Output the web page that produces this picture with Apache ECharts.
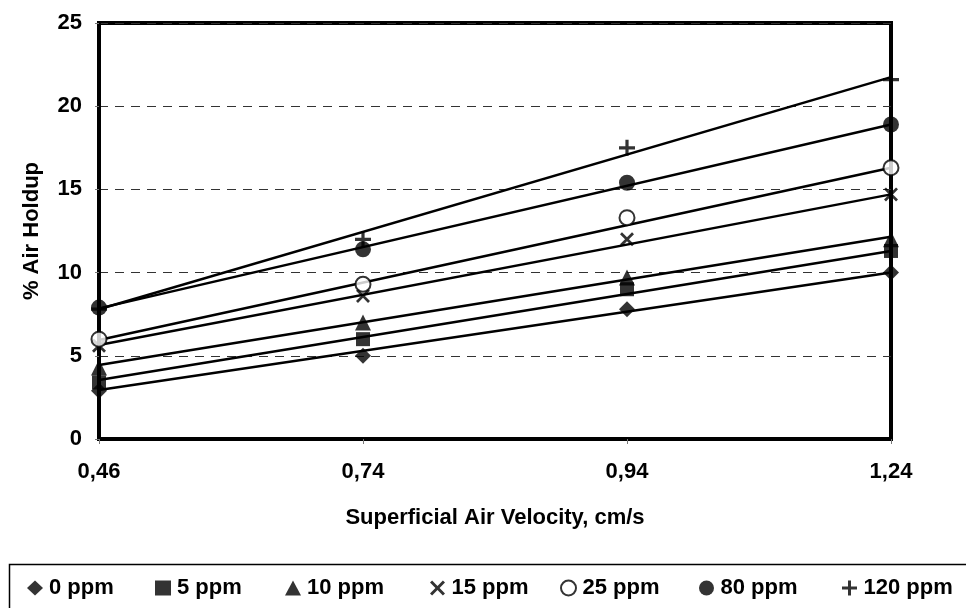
<!DOCTYPE html>
<html>
<head>
<meta charset="utf-8">
<script src="https://cdn.jsdelivr.net/npm/echarts@6/dist/echarts.min.js"></script>
<style>html,body{margin:0;padding:0;background:#fff;}#c{width:966px;height:608px;}</style>
</head>
<body>
<div id="c"></div>
<script>
const categories = ['0,46', '0,74', '0,94', '1,24'];
const seriesNames = ['0 ppm', '5 ppm', '10 ppm', '15 ppm', '25 ppm', '80 ppm', '120 ppm'];
const ppm0   = [2.9, 5.0, 7.8, 10.0];
const ppm5   = [3.4, 6.0, 9.0, 11.3];
const ppm10  = [4.3, 7.0, 9.7, 12.0];
const ppm15  = [5.6, 8.6, 12.0, 14.7];
const ppm25  = [6.0, 9.3, 13.3, 16.3];
const ppm80  = [7.9, 11.4, 15.4, 18.9];
const ppm120 = [7.8, 12.0, 17.5, 21.6];
// trend line values at first and last category
const trendStart = [2.95, 3.55, 4.45, 5.65, 5.95, 7.85, 7.8];
const trendEnd   = [10.0, 11.3, 12.15, 14.7, 16.3, 18.9, 21.75];
const yTicks = [0, 5, 10, 15, 20, 25];

const values = [ppm0, ppm5, ppm10, ppm15, ppm25, ppm80, ppm120];
const X_PATH = 'path://M0,2.8 L2.8,0 L10,7.2 L17.2,0 L20,2.8 L12.8,10 L20,17.2 L17.2,20 L10,12.8 L2.8,20 L0,17.2 L7.2,10 Z';
const PLUS_PATH = 'path://M8,0 H12 V8 H20 V12 H12 V20 H8 V12 H0 V8 H8 Z';
const symbols = ['diamond', 'rect', 'triangle', X_PATH, 'emptyCircle', 'circle', PLUS_PATH];
const sizes = [16, 14, 16, 14, 15, 16, 16];
const legendX = [35, 163, 293, 438, 568, 707, 850];

const FONT = '"Liberation Sans", Arial, sans-serif';
const chart = echarts.init(document.getElementById('c'), null, {renderer: 'canvas'});

const series = [];
seriesNames.forEach((n, i) => {
  series.push({
    name: n + ' trend', type: 'line', silent: true,
    data: [[0, trendStart[i]], [categories.length - 1, trendEnd[i]]],
    symbol: 'none', lineStyle: {color: '#000', width: 2.5}, z: 3
  });
});
seriesNames.forEach((n, i) => {
  series.push({
    name: n, type: 'scatter',
    data: values[i],
    symbol: symbols[i], symbolSize: sizes[i],
    itemStyle: i === 4 ? {color: '#000', borderColor: '#000', borderWidth: 2} : {color: '#000'},
    z: 5
  });
});

const legends = seriesNames.map((n, i) => ({
  data: [n], left: legendX[i] - 8, top: 577, padding: 0,
  itemWidth: 16, itemHeight: 15, itemGap: 0,
  textStyle: {fontFamily: FONT, fontWeight: 'bold', fontSize: 22, color: '#000', padding: [0, 0, 0, 1]},
  itemStyle: i === 4 ? {color: '#000', borderColor: '#000', borderWidth: 2} : {color: '#000'}
}));

chart.setOption({
  animation: false,
  backgroundColor: '#fff',
  grid: {left: 99, right: 75, top: 23, bottom: 169, show: true, borderColor: '#000', borderWidth: 4, backgroundColor: 'transparent'},
  xAxis: {
    type: 'category', data: categories, boundaryGap: false,
    name: 'Superficial Air Velocity, cm/s', nameLocation: 'middle', nameGap: 68,
    nameTextStyle: {fontFamily: FONT, fontWeight: 'bold', fontSize: 22, color: '#000'},
    axisLine: {lineStyle: {color: '#000', width: 4}},
    axisTick: {show: true, length: 5, lineStyle: {color: '#777', width: 1}},
    axisLabel: {fontFamily: FONT, fontWeight: 'bold', fontSize: 22, color: '#000', margin: 22},
    splitLine: {show: false}
  },
  yAxis: {
    type: 'value', min: yTicks[0], max: yTicks[yTicks.length - 1], interval: 5,
    name: '% Air Holdup', nameLocation: 'middle', nameGap: 56, nameRotate: 90,
    nameTextStyle: {fontFamily: FONT, fontWeight: 'bold', fontSize: 22, color: '#000'},
    axisLine: {show: true, lineStyle: {color: '#000', width: 4}},
    axisTick: {show: true, length: 4, lineStyle: {color: '#777', width: 1}},
    axisLabel: {fontFamily: FONT, fontWeight: 'bold', fontSize: 22, color: '#000', margin: 17},
    splitLine: {show: true, lineStyle: {color: '#333', width: 1, type: [9, 7]}}
  },
  legend: legends,
  graphic: [{
    type: 'rect', left: 7, top: 562, silent: true,
    shape: {width: 1000, height: 100},
    style: {fill: 'none', stroke: '#000', lineWidth: 1.5}
  }],
  series: series
});
</script>
</body>
</html>
